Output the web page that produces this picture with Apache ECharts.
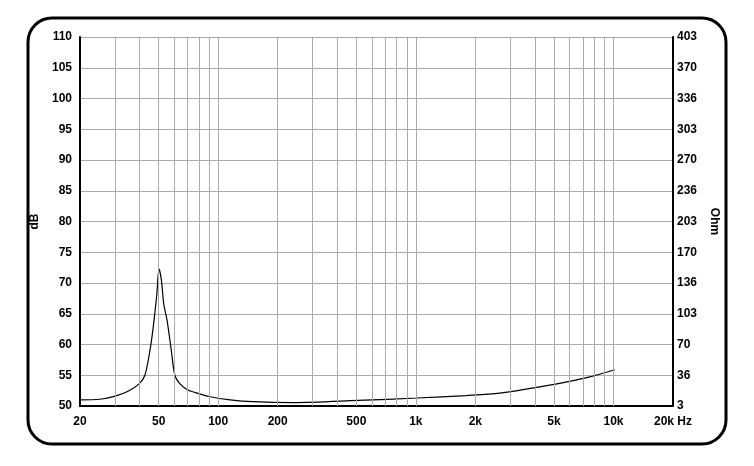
<!DOCTYPE html><html><head><meta charset="utf-8">
<script src="https://cdn.jsdelivr.net/npm/echarts@6/dist/echarts.min.js"></script>
<style>body{margin:0;background:#fff}#c{width:754px;height:466px}</style></head><body><div id="c"></div>
<script>
const freqs=[20,25.2,30.1,35,39.8,42.6,45.2,46.8,48.9,50.2,51.6,53.1,55.1,57.9,60.4,64.5,70.3,80,90.9,115,150,239,509,1014,1800,2660,5180,7500,10160];
const dbVals=[51.0,51.1,51.6,52.4,53.6,55.0,59.1,62.5,68.0,72.3,70.5,66.5,64.0,59.1,55.0,53.5,52.6,52.0,51.5,51.0,50.7,50.55,50.9,51.3,51.7,52.1,53.6,54.7,55.9];
const xLabels=[20,50,100,200,500,1000,2000,5000,10000,20000];
const gridFreqs=[30,40,50,60,70,80,90,100,200,300,400,500,600,700,800,900,1000,2000,3000,4000,5000,6000,7000,8000,9000,10000];
const rightLabels=[3,36,70,103,136,170,203,236,270,303,336,370,403];
const lab={color:'#000',fontWeight:'bold',fontFamily:'Liberation Sans',fontSize:12};
const ch=echarts.init(document.getElementById('c'));
ch.setOption({
 animation:false,
 graphic:[{type:'rect',shape:{x:28,y:18,width:698,height:426,r:24},style:{fill:'none',stroke:'#000',lineWidth:3},z:-1}],
 grid:{left:80,right:81,top:37,bottom:60},
 xAxis:{type:'log',min:20,max:20000,logBase:10,
  axisLine:{lineStyle:{color:'#000',width:2}},axisTick:{show:false},splitLine:{show:false},
  axisLabel:Object.assign({customValues:xLabels,margin:10,formatter:v=>{v=Math.round(v);return v>=20000?'20k Hz':v>=1000?(v/1000)+'k':String(v);}},lab)},
 yAxis:[{type:'value',min:50,max:110,interval:5,name:'dB',nameLocation:'middle',nameGap:24,nameRotate:90,nameTextStyle:lab,
  axisLine:{show:true,lineStyle:{color:'#000',width:2}},axisTick:{show:false},
  splitLine:{lineStyle:{color:'#aaa',width:1}},axisLabel:lab},
  {type:'value',min:50,max:110,interval:5,position:'right',name:'Ohm',nameLocation:'middle',nameGap:30,nameRotate:-90,nameTextStyle:lab,
  axisLine:{show:true,lineStyle:{color:'#000',width:2}},axisTick:{show:false},splitLine:{show:false},
  axisLabel:Object.assign({margin:4,formatter:v=>String(rightLabels[Math.round((v-50)/5)])},lab)}],
 series:[{type:'line',data:freqs.map((f,i)=>[f,dbVals[i]]),smooth:0.3,showSymbol:false,lineStyle:{color:'#000',width:1.2},
  markLine:{silent:true,symbol:'none',label:{show:false},lineStyle:{color:'#aaa',width:1,type:'solid'},data:gridFreqs.map(f=>({xAxis:f}))}}]
});
</script></body></html>
